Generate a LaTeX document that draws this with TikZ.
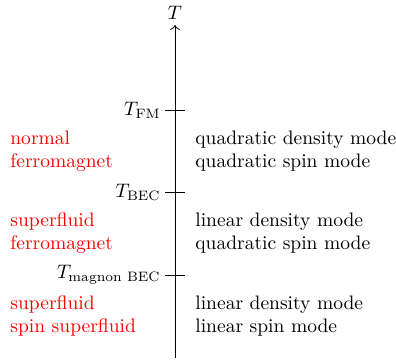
\documentclass[tikz,border=0pt]{standalone}
\usepackage{tikz}
\usepackage{xcolor}
\usepackage{amsmath}
\usetikzlibrary{arrows.meta, positioning}

\begin{document}
\begin{tikzpicture}[x=0.0180cm, y=-0.0180cm,
      phase/.style={align=left, anchor=west, text=red, inner sep=0pt},
      mode/.style={align=left, anchor=west, inner sep=0pt},
      tk/.style={anchor=east, inner sep=0pt}
    ]
    \useasboundingbox (0,0) rectangle (396,362);

    \coordinate (bot) at (175,358);
    \coordinate (top) at (175,25);
    \node[inner sep=0pt] (tlab) at (175,13) {$T$};
    \draw[->] (bot) -- (top);

    % ticks
    \coordinate (fm)  at (175,110);
    \coordinate (bec) at (175,192);
    \coordinate (mag) at (175,275);
    \draw ([xshift=-5]fm.center)  -- ([xshift=5]fm.center);
    \draw ([xshift=-5]bec.center) -- ([xshift=5]bec.center);
    \draw ([xshift=-5]mag.center) -- ([xshift=5]mag.center);
    \node[tk] (tfm)  at (161,110) {$T_{\text{FM}}$};
    \node[tk] (tbec) at (161,192) {$T_{\text{BEC}}$};
    \node[tk] (tmag) at (161,275) {$T_{\text{magnon BEC}}$};

    % phases
    \node[phase] (p1) at (10,151) {normal\\ferromagnet};
    \node[phase] (p2) at (10,233) {superfluid\\ferromagnet};
    \node[phase] (p3) at (10,316) {superfluid\\spin superfluid};

    % modes
    \node[mode] (m1) at (195,151) {quadratic density mode\\quadratic spin mode};
    \node[mode] (m2) at (195,233) {linear density mode\\quadratic spin mode};
    \node[mode] (m3) at (195,316) {linear density mode\\linear spin mode};
  \end{tikzpicture}
\end{document}
